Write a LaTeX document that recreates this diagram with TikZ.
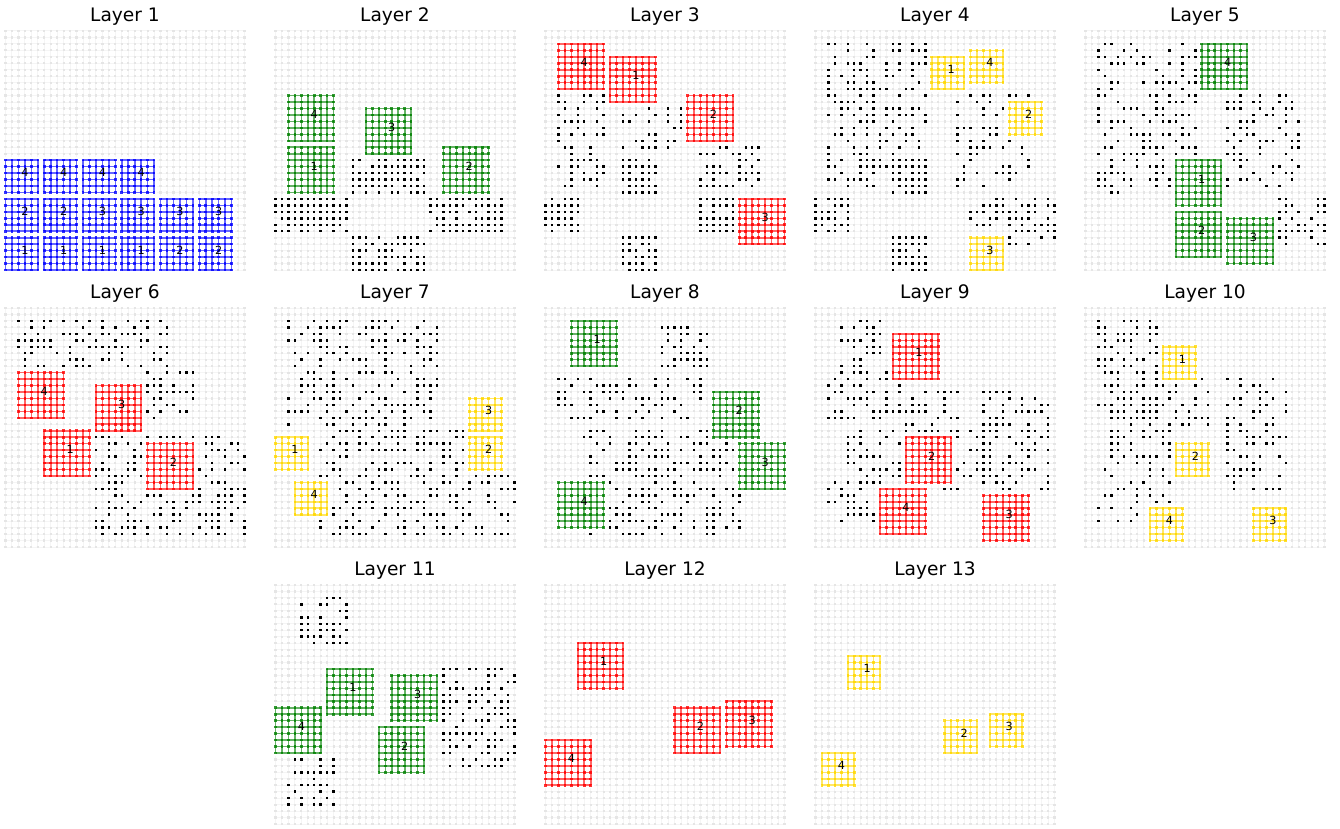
\documentclass[tikz,border=0pt]{standalone}
\usepackage{fontspec}
\setmainfont{DejaVu Sans}
\definecolor{blkblue}{HTML}{0000FF}
\definecolor{blkgreen}{HTML}{008000}
\definecolor{blkred}{HTML}{FF0000}
\definecolor{blkgold}{HTML}{FFD700}
\newcommand{\basegrid}{%
  \foreach \k in {0,...,37} {\draw[bgline] (\k,0) -- (\k,37); \draw[bgline] (0,\k) -- (37,\k);}
  \foreach \k in {0,...,37} \draw[bgdot] (-0.17,\k) -- (37.2,\k);
}
\newcommand{\blackdots}[5]{%
  \foreach \i in {#1,...,#2} \foreach \j in {#3,...,#4} {%
    \pgfmathsetmacro\rr{rnd}%
    \ifdim\rr pt<#5pt \fill[bdot] (\i-0.19,\j-0.19) rectangle (\i+0.19,\j+0.19);\fi
  }%
}
\newcommand{\drawblock}[6]{%
  \pgfmathtruncatemacro\nlast{#4-1}%
  \fill[white] (#2-0.45,#3-0.45) rectangle (#2+\nlast+0.45,#3+\nlast+0.45);
  \foreach \k in {0,...,\nlast} {\draw[blkline=#1] (#2+\k,#3) -- (#2+\k,#3+\nlast); \draw[blkline=#1] (#2,#3+\k) -- (#2+\nlast,#3+\k);}
  \foreach \k in {0,...,\nlast} \draw[blkdot=#1] (#2-0.2,#3+\k) -- (#2+\nlast+0.25,#3+\k);
  \node[blklabel] (#6) at (#2+#4/2,#3+#4/2-1.1) {#5};
}
\begin{document}
\begin{tikzpicture}[x=0.5pt,y=-0.5pt,
  bgline/.style={draw=gray!8, line width=0.5pt},
  bgdot/.style={draw=gray!20, line width=1.1pt, dash pattern=on 1.1pt off 2.13pt},
  bdot/.style={fill=black},
  blkline/.style={draw=#1, opacity=0.6, line width=0.8pt},
  blkdot/.style={draw=#1, opacity=0.8, line width=1.3pt, dash pattern=on 1.3pt off 1.93pt},
  blklabel/.style={font=\fontsize{5.6}{6}\selectfont, text=black, inner sep=0pt},
  paneltitle/.style={font=\fontsize{9.3}{11}\selectfont, anchor=base, inner sep=0pt},
  panel/.style 2 args={xshift={(5.5+270*#1)*0.5pt}, yshift={-(31+277*#2)*0.5pt}, x=3.23pt, y=-3.23pt}]
\useasboundingbox[fill=white] (0,0) rectangle (1340,829);
\pgfmathsetseed{42}

\node[paneltitle] (ttl1) at (125,21.7) {Layer 1};
\node[paneltitle] (ttl2) at (395,21.7) {Layer 2};
\node[paneltitle] (ttl3) at (665,21.7) {Layer 3};
\node[paneltitle] (ttl4) at (935,21.7) {Layer 4};
\node[paneltitle] (ttl5) at (1205,21.7) {Layer 5};
\node[paneltitle] (ttl6) at (125,298.7) {Layer 6};
\node[paneltitle] (ttl7) at (395,298.7) {Layer 7};
\node[paneltitle] (ttl8) at (665,298.7) {Layer 8};
\node[paneltitle] (ttl9) at (935,298.7) {Layer 9};
\node[paneltitle] (ttl10) at (1205,298.7) {Layer 10};
\node[paneltitle] (ttl11) at (395,575.7) {Layer 11};
\node[paneltitle] (ttl12) at (665,575.7) {Layer 12};
\node[paneltitle] (ttl13) at (935,575.7) {Layer 13};

% layer 1
\begin{scope}[panel={0}{0}]
\basegrid
\drawblock{blkblue}{0}{32}{6}{1}{la1} \drawblock{blkblue}{6}{32}{6}{1}{la2}
\drawblock{blkblue}{12}{32}{6}{1}{la3} \drawblock{blkblue}{18}{32}{6}{1}{la4}
\drawblock{blkblue}{24}{32}{6}{2}{la5} \drawblock{blkblue}{30}{32}{6}{2}{la6}
\drawblock{blkblue}{0}{26}{6}{2}{la7} \drawblock{blkblue}{6}{26}{6}{2}{la8}
\drawblock{blkblue}{12}{26}{6}{3}{la9} \drawblock{blkblue}{18}{26}{6}{3}{la10}
\drawblock{blkblue}{24}{26}{6}{3}{la11} \drawblock{blkblue}{30}{26}{6}{3}{la12}
\drawblock{blkblue}{0}{20}{6}{4}{la13} \drawblock{blkblue}{6}{20}{6}{4}{la14}
\drawblock{blkblue}{12}{20}{6}{4}{la15} \drawblock{blkblue}{18}{20}{6}{4}{la16}
\end{scope}

% layer 2
\begin{scope}[panel={1}{0}]
\basegrid
\blackdots{0}{11}{26}{31}{0.85} \blackdots{12}{23}{20}{25}{0.85}
\blackdots{12}{23}{32}{37}{0.85} \blackdots{24}{35}{26}{31}{0.85}
\drawblock{blkgreen}{2}{10}{8}{4}{lb4} \drawblock{blkgreen}{2}{18}{8}{1}{lb1}
\drawblock{blkgreen}{14}{12}{8}{3}{lb3} \drawblock{blkgreen}{26}{18}{8}{2}{lb2}
\end{scope}

% layer 3
\begin{scope}[panel={2}{0}]
\basegrid
\blackdots{2}{9}{10}{24}{0.45} \blackdots{0}{5}{26}{31}{0.75}
\blackdots{12}{17}{20}{25}{0.85} \blackdots{12}{21}{12}{18}{0.4}
\blackdots{12}{17}{32}{37}{0.85} \blackdots{24}{33}{18}{24}{0.45}
\blackdots{24}{29}{26}{31}{0.75}
\drawblock{blkred}{2}{2}{8}{4}{lc4} \drawblock{blkred}{10}{4}{8}{1}{lc1}
\drawblock{blkred}{22}{10}{8}{2}{lc2} \drawblock{blkred}{30}{26}{8}{3}{lc3}
\end{scope}

% layer 4
\begin{scope}[panel={3}{0}]
\basegrid
\blackdots{2}{17}{2}{24}{0.45} \blackdots{0}{5}{26}{31}{0.75}
\blackdots{12}{17}{20}{25}{0.85} \blackdots{12}{17}{32}{37}{0.85}
\blackdots{22}{33}{10}{24}{0.4} \blackdots{24}{37}{26}{33}{0.6}
\drawblock{blkgold}{18}{4}{6}{1}{ld1} \drawblock{blkgold}{24}{3}{6}{4}{ld4}
\drawblock{blkgold}{30}{11}{6}{2}{ld2} \drawblock{blkgold}{24}{32}{6}{3}{ld3}
\end{scope}

% layer 5
\begin{scope}[panel={4}{0}]
\basegrid
\blackdots{2}{17}{2}{25}{0.45} \blackdots{22}{33}{10}{24}{0.4}
\blackdots{30}{37}{26}{33}{0.5}
\drawblock{blkgreen}{18}{2}{8}{4}{le4} \drawblock{blkgreen}{14}{20}{8}{1}{le1}
\drawblock{blkgreen}{14}{28}{8}{2}{le2} \drawblock{blkgreen}{22}{29}{8}{3}{le3}
\end{scope}

% layer 6
\begin{scope}[panel={0}{1}]
\basegrid
\blackdots{2}{25}{2}{9}{0.45} \blackdots{22}{29}{10}{17}{0.45}
\blackdots{14}{37}{20}{35}{0.45}
\drawblock{blkred}{2}{10}{8}{4}{lf4} \drawblock{blkred}{14}{12}{8}{3}{lf3}
\drawblock{blkred}{6}{19}{8}{1}{lf1} \drawblock{blkred}{22}{21}{8}{2}{lf2}
\end{scope}

% layer 7
\begin{scope}[panel={1}{1}]
\basegrid
\blackdots{2}{25}{2}{18}{0.45} \blackdots{7}{29}{19}{35}{0.45}
\blackdots{30}{37}{26}{35}{0.45}
\drawblock{blkgold}{30}{14}{6}{3}{lg3} \drawblock{blkgold}{30}{20}{6}{2}{lg2}
\drawblock{blkgold}{0}{20}{6}{1}{lg1} \drawblock{blkgold}{3}{27}{6}{4}{lg4}
\end{scope}

% layer 8
\begin{scope}[panel={2}{1}]
\basegrid
\blackdots{18}{25}{2}{9}{0.5} \blackdots{2}{24}{11}{17}{0.4}
\blackdots{6}{30}{19}{35}{0.45}
\drawblock{blkgreen}{4}{2}{8}{1}{lh1} \drawblock{blkgreen}{26}{13}{8}{2}{lh2}
\drawblock{blkgreen}{30}{21}{8}{3}{lh3} \drawblock{blkgreen}{2}{27}{8}{4}{lh4}
\end{scope}

% layer 9
\begin{scope}[panel={3}{1}]
\basegrid
\blackdots{4}{10}{2}{11}{0.5} \blackdots{2}{13}{10}{17}{0.4}
\blackdots{14}{22}{13}{19}{0.45} \blackdots{26}{36}{13}{28}{0.45}
\blackdots{5}{27}{19}{28}{0.45} \blackdots{2}{10}{27}{33}{0.5}
\drawblock{blkred}{12}{4}{8}{1}{li1} \drawblock{blkred}{14}{20}{8}{2}{li2}
\drawblock{blkred}{10}{28}{8}{4}{li4} \drawblock{blkred}{26}{29}{8}{3}{li3}
\end{scope}

% layer 10
\begin{scope}[panel={4}{1}]
\basegrid
\blackdots{2}{11}{2}{17}{0.45} \blackdots{7}{19}{11}{19}{0.4}
\blackdots{22}{31}{11}{28}{0.45} \blackdots{2}{13}{19}{33}{0.4}
\drawblock{blkgold}{12}{6}{6}{1}{lj1} \drawblock{blkgold}{14}{21}{6}{2}{lj2}
\drawblock{blkgold}{10}{31}{6}{4}{lj4} \drawblock{blkgold}{26}{31}{6}{3}{lj3}
\end{scope}

% layer 11
\begin{scope}[panel={1}{2}]
\basegrid
\blackdots{4}{11}{2}{9}{0.5} \blackdots{26}{37}{13}{28}{0.5}
\blackdots{2}{9}{27}{34}{0.5}
\drawblock{blkgreen}{8}{13}{8}{1}{lk1} \drawblock{blkgreen}{18}{14}{8}{3}{lk3}
\drawblock{blkgreen}{0}{19}{8}{4}{lk4} \drawblock{blkgreen}{16}{22}{8}{2}{lk2}
\end{scope}

% layer 12
\begin{scope}[panel={2}{2}]
\basegrid
\drawblock{blkred}{5}{9}{8}{1}{ll1} \drawblock{blkred}{20}{19}{8}{2}{ll2}
\drawblock{blkred}{28}{18}{8}{3}{ll3} \drawblock{blkred}{0}{24}{8}{4}{ll4}
\end{scope}

% layer 13
\begin{scope}[panel={3}{2}]
\basegrid
\drawblock{blkgold}{5}{11}{6}{1}{lm1} \drawblock{blkgold}{20}{21}{6}{2}{lm2}
\drawblock{blkgold}{27}{20}{6}{3}{lm3} \drawblock{blkgold}{1}{26}{6}{4}{lm4}
\end{scope}
\end{tikzpicture}
\end{document}
